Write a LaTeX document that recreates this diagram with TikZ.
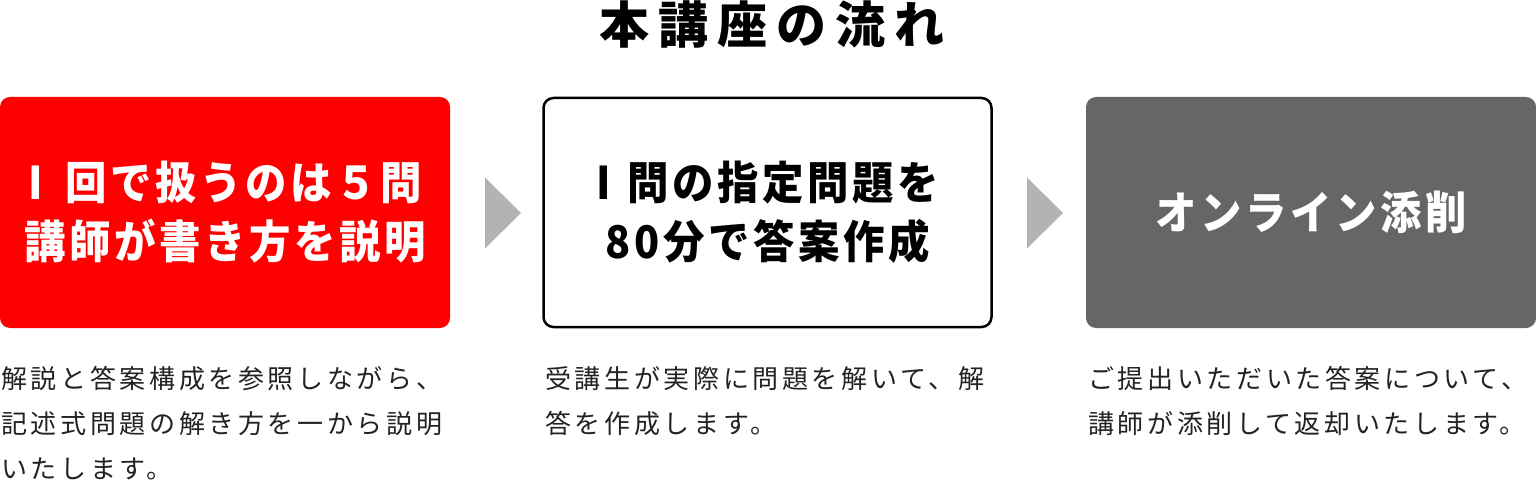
\documentclass[tikz,border=0pt]{standalone}
\usepackage{fontspec}
\newfontfamily\jptitle[LetterSpace=18]{Noto Sans CJK JP}
\newfontfamily\jpbox[LetterSpace=8,FakeStretch=0.92]{Noto Sans CJK JP}
\newfontfamily\jpdesc[LetterSpace=14]{Noto Sans CJK JP}
\definecolor{redfill}{HTML}{FF0000}
\definecolor{grayfill}{HTML}{666666}
\definecolor{arrowgray}{HTML}{B3B3B3}
\definecolor{desctext}{HTML}{222222}
\tikzset{
  stepbox/.style={rectangle, rounded corners=10pt, minimum width=450pt, minimum height=231pt,
    inner sep=0pt, align=center, font=\jpbox\bfseries\fontsize{45}{59}\selectfont},
  redbox/.style={stepbox, fill=redfill, text=white},
  whitebox/.style={stepbox, draw=black, line width=2.5pt, fill=white, text=black,
    minimum width=448pt, minimum height=229pt},
  graybox/.style={stepbox, fill=grayfill, text=white},
  desc/.style={anchor=north west, inner sep=0pt, align=left, text=desctext,
    font=\jpdesc\fontsize{26}{45}\selectfont},
  tri/.style={fill=arrowgray}
}
\begin{document}
\begin{tikzpicture}[x=1pt,y=1pt]
\useasboundingbox (0,0) rectangle (1536,-489);
\node[font=\jptitle\bfseries\fontsize{50}{55}\selectfont, inner sep=0pt] (title) at (772,-25) {本講座の流れ};
\node[redbox] (b1) at (225,-212.5) {I\hspace{22pt}回で扱うのは５問\\講師が書き方を説明};
\node[whitebox] (b2) at (767.5,-212.5) {I\hspace{16pt}問の指定問題を\\80分で答案作成};
\node[graybox] (b3) at (1311,-212.5) {オンライン添削};
\coordinate (a1) at (485,-213);
\coordinate (a2) at (1027,-213);
\fill[tri] (a1) ++(0,35.5) -- ++(36,-35.5) -- ++(-36,-35.5) -- cycle;
\fill[tri] (a2) ++(0,35.5) -- ++(36,-35.5) -- ++(-36,-35.5) -- cycle;
\node[desc] (d1) at (1,-366) {解説と答案構成を参照しながら、\\記述式問題の解き方を一から説明\\いたします。};
\node[desc] (d2) at (545,-366) {受講生が実際に問題を解いて、解\\答を作成します。};
\node[desc] (d3) at (1088,-366) {ご提出いただいた答案について、\\講師が添削して返却いたします。};
\end{tikzpicture}
\end{document}
